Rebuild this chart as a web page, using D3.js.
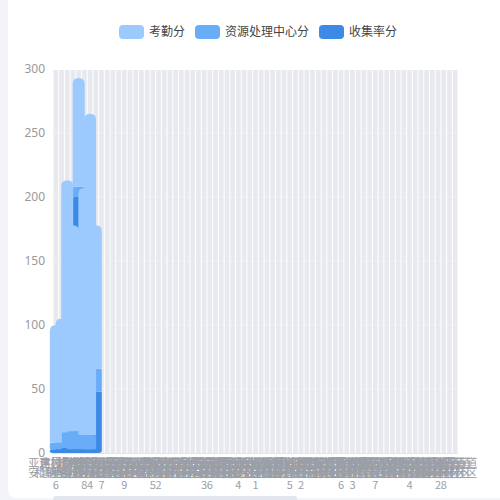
<!DOCTYPE html>
<html>
<head>
<meta charset="utf-8">
<script src="https://cdn.jsdelivr.net/npm/d3@7"></script>
<style>
  html, body { margin: 0; padding: 0; background: #f3f4f8; }
  svg { display: block; }
</style>
</head>
<body>
<svg width="500" height="500"></svg>
<script>
// categories (line breaks written as "/")
var labels = [
  '亚运村街道/安慧里社区/6','东风街道/和平里社区','建设路街道/朝阳社区','城关镇/新华社区','北苑街道/明珠社区',
  '南湖街道/金桥社区/8','西城街道/桂花社区/4','东湖街道/春晖社区','长安街道/龙泉社区/7','江北街道/滨江社区',
  '青山街道/红旗社区','花园街道/翠苑社区','光明街道/幸福社区/9','新城街道/文化社区','平安街道/永安社区',
  '白云街道/天河社区','东城街道/民主社区','河西街道/团结社区/5','湖滨街道/碧水社区/2','中山街道/中华社区',
  '解放街道/胜利社区','人民街道/友谊社区','府前街道/康乐社区','五一街道/劳动社区','向阳街道/东升社区',
  '南门街道/迎春社区','北门街道/金星社区/3','西关街道/玉泉社区/6','东关街道/清河社区','站前街道/铁路社区',
  '园林街道/绿荫社区','桃源街道/梨园社区','凤凰街道/丹凤社区/4','龙山街道/卧龙社区','石桥街道/石门社区',
  '临江街道/望江社区/1','双塔街道/宝塔社区','北关街道/兴隆社区','高新街道/创业社区','开发区街道/兴业社区',
  '滨海街道/海景社区','新华街道/华兴社区/5','振兴街道/复兴社区','和平街道/安宁社区/2','城南街道/南苑社区',
  '城北街道/北苑社区','城西街道/西苑社区','城东街道/东苑社区','大学城街道/书香社区','科技园街道/智慧社区',
  '工业园街道/实业社区/6','金山街道/银山社区','云龙街道/云海社区/3','紫荆街道/紫竹社区','锦绣街道/锦华社区',
  '春华街道/秋实社区','长青街道/常绿社区/7','嘉禾街道/丰收社区','顺河街道/顺德社区','广场街道/文体社区',
  '古城街道/古楼社区','新村街道/新苑社区','泰山街道/泰和社区/4','华山街道/华林社区','黄河街道/黄埔社区',
  '长江街道/江南社区','珠江街道/珠海社区','松江街道/松林社区/2','柳河街道/柳林社区/8','杨柳街道/杨园社区',
  '梅园街道/梅林社区'
];

var seriesNames = ['考勤分', '资源处理中心分', '收集率分'];
var colors = ['#9ccaff', '#69adf8', '#3d8ae6'];

// series values, one per category
var kaoqin = [92,89,190,161,85,193,251,112,0,0,0,0,0,0,0,0,0,0,0,0,0,0,0,0,0,0,0,0,0,0,0,0,0,0,0,0,0,0,0,0,0,0,0,0,0,0,0,0,0,0,0,0,0,0,0,0,0,0,0,0,0,0,0,0,0,0,0,0,0,0,0];
var ziyuan = [5,12,19,14,8,11,11,18,0,0,0,0,0,0,0,0,0,0,0,0,0,0,0,0,0,0,0,0,0,0,0,0,0,0,0,0,0,0,0,0,0,0,0,0,0,0,0,0,0,0,0,0,0,0,0,0,0,0,0,0,0,0,0,0,0,0,0,0,0,0,0];
var shouji = [3,4,4,3,200,3,3,48,0,0,0,0,0,0,0,0,0,0,0,0,0,0,0,0,0,0,0,0,0,0,0,0,0,0,0,0,0,0,0,0,0,0,0,0,0,0,0,0,0,0,0,0,0,0,0,0,0,0,0,0,0,0,0,0,0,0,0,0,0,0,0];

var yTicks = [0,50,100,150,200,250,300];

var plotLeft = 53, plotRight = 458, plotTop = 69, plotBottom = 453;
var barWidth = 12;

var svg = d3.select('svg');

// white card
svg.append('rect')
  .attr('x', 8).attr('y', -10)
  .attr('width', 520).attr('height', 508)
  .attr('rx', 8)
  .attr('fill', '#fff');

var rows = labels.map(function(l, i) {
  return { name: l, shouji: shouji[i], ziyuan: ziyuan[i], kaoqin: kaoqin[i] };
});

var xScale = d3.scaleBand()
  .domain(d3.range(labels.length))
  .range([plotLeft, plotRight]);

var yScale = d3.scaleLinear()
  .domain([0, 300])
  .range([plotBottom, plotTop]);

// background stripes
svg.append('g')
  .selectAll('rect')
  .data(rows)
  .enter()
  .append('rect')
    .attr('x', (d, i) => xScale(i) + 0.5)
    .attr('y', yScale(300) + 1)
    .attr('width', xScale.bandwidth() - 1)
    .attr('height', yScale(0) - yScale(300) - 1)
    .attr('fill', '#e8e9ef');

// split lines
svg.append('g')
  .selectAll('line')
  .data(yTicks.slice(1))
  .enter()
  .append('line')
    .attr('x1', plotLeft).attr('x2', plotRight)
    .attr('y1', d => yScale(d)).attr('y2', d => yScale(d))
    .attr('stroke', '#fff')
    .attr('stroke-opacity', 0.45)
    .attr('stroke-dasharray', '4,3');

// x axis line
svg.append('line')
  .attr('x1', plotLeft).attr('x2', plotRight)
  .attr('y1', plotBottom + 0.5).attr('y2', plotBottom + 0.5)
  .attr('stroke', '#e3e5ea');

// y axis labels
var yAxis = d3.axisLeft(yScale)
  .tickValues(yTicks)
  .tickSize(0)
  .tickPadding(8);

var yg = svg.append('g')
  .attr('transform', 'translate(' + plotLeft + ',0)')
  .call(yAxis);
yg.select('.domain').remove();
yg.selectAll('text')
  .attr('fill', '#9a9a9a')
  .style('font-size', '12px')
  .style('font-family', 'Noto Sans, sans-serif');

// stacked bars: bottom 收集率分, then 资源处理中心分, top 考勤分
var stack = d3.stack().keys(['shouji', 'ziyuan', 'kaoqin']);
var layers = stack(rows);
var layerColor = { shouji: colors[2], ziyuan: colors[1], kaoqin: colors[0] };

function barPath(x, y0, y1, rTop, rBot) {
  var w = barWidth, h = y0 - y1;
  rTop = Math.min(rTop, h / 2, w / 2);
  rBot = Math.min(rBot, h / 2, w / 2);
  return 'M' + x + ',' + (y1 + rTop) +
    'Q' + x + ',' + y1 + ' ' + (x + rTop) + ',' + y1 +
    'L' + (x + w - rTop) + ',' + y1 +
    'Q' + (x + w) + ',' + y1 + ' ' + (x + w) + ',' + (y1 + rTop) +
    'L' + (x + w) + ',' + (y0 - rBot) +
    'Q' + (x + w) + ',' + y0 + ' ' + (x + w - rBot) + ',' + y0 +
    'L' + (x + rBot) + ',' + y0 +
    'Q' + x + ',' + y0 + ' ' + x + ',' + (y0 - rBot) + 'Z';
}

layers.forEach(function(layer) {
  var isTop = layer.key === 'kaoqin';
  svg.append('g')
    .selectAll('path')
    .data(layer.filter(d => d[1] > d[0]))
    .enter()
    .append('path')
      .attr('d', function(d) {
        var i = rows.indexOf(d.data);
        var cx = xScale(i) + xScale.bandwidth() / 2;
        return barPath(cx - barWidth / 2, yScale(d[0]), yScale(d[1]),
          isTop ? 6 : 1.5, layer.key === 'shouji' ? 3 : 0);
      })
      .attr('fill', layerColor[layer.key]);
});

// x labels (all shown, overlapping)
var xl = svg.append('g')
  .selectAll('text')
  .data(labels)
  .enter()
  .append('text')
    .attr('x', (d, i) => xScale(i) + xScale.bandwidth() / 2)
    .attr('y', 467)
    .attr('text-anchor', 'middle')
    .attr('fill', '#9a9ea6')
    .style('font-size', '11px')
    .style('font-family', 'Noto Sans CJK SC, sans-serif');

xl.each(function(d, i) {
  var t = d3.select(this);
  var cx = xScale(i) + xScale.bandwidth() / 2;
  d.split('/').forEach(function(part, k) {
    t.append('tspan')
      .attr('x', cx)
      .attr('y', [467, 477, 489][k])
      .text(part);
  });
});

// legend
var legendX = [119, 195, 319];
var lg = svg.append('g')
  .selectAll('g')
  .data(seriesNames)
  .enter()
  .append('g')
    .attr('transform', (d, i) => 'translate(' + legendX[i] + ',25)');
lg.append('rect')
  .attr('width', 25).attr('height', 14)
  .attr('rx', 4)
  .attr('fill', (d, i) => colors[i]);
lg.append('text')
  .attr('x', 30).attr('y', 7)
  .attr('dy', '0.36em')
  .attr('fill', '#444')
  .style('font-size', '12px')
  .style('font-family', 'Noto Sans CJK SC, sans-serif')
  .text(d => d);

// data zoom slider (cut off at the bottom)
svg.append('rect')
  .attr('x', plotLeft).attr('y', 496)
  .attr('width', 244).attr('height', 10)
  .attr('rx', 3)
  .attr('fill', '#e2e6ee');
</script>
</body>
</html>
